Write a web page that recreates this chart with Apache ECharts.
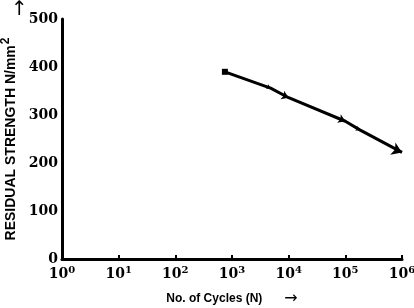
<!DOCTYPE html>
<html>
<head>
<meta charset="utf-8">
<script src="https://cdn.jsdelivr.net/npm/echarts@6/dist/echarts.min.js"></script>
<style>
  html, body { margin: 0; padding: 0; background: #fff; }
  #chart { width: 414px; height: 308px; }
</style>
</head>
<body>
<div id="chart"></div>
<script>
// values
var cycles   = [750, 4800, 10000, 100000, 180000, 1000000];
var strength = [390, 356, 336, 287, 269, 222];
var marks    = ['rect', 'arrow', 'arrow', 'arrow', 'arrow', 'arrow'];
var markSize = [6, 4, 7, 7, 4, 10];
var yTicks   = [0, 100, 200, 300, 400, 500];

var chart = echarts.init(document.getElementById('chart'));

var points = [];
for (var i = 0; i < cycles.length; i++) {
  points.push({
    value: [cycles[i], strength[i]],
    symbol: marks[i],
    symbolSize: markSize[i],
    symbolRotate: marks[i] == 'arrow' ? -113 : 0
  });
}

var tickFont = {fontFamily: 'DejaVu Serif', fontWeight: 'bold', fontSize: 14, color: '#000'};

chart.setOption({
  animation: false,
  backgroundColor: '#fff',
  grid: {left: 62, right: 12, top: 19, bottom: 49, outerBoundsMode: 'none', containLabel: false},
  xAxis: {
    type: 'log',
    logBase: 10,
    min: 1,
    max: 1000000,
    name: '{t|No. of Cycles (N)}{g|}{a|\u2192}',
    nameLocation: 'middle',
    nameGap: 32,
    nameTextStyle: {
      rich: {
        t: {fontFamily: 'Liberation Sans', fontWeight: 'bold', fontSize: 12, color: '#000'},
        g: {width: 22},
        a: {fontFamily: 'DejaVu Sans', fontSize: 16, color: '#000'}
      }
    },
    axisLine: {lineStyle: {color: '#000', width: 3}},
    axisTick: {inside: true, length: 4, lineStyle: {color: '#000', width: 2}},
    minorTick: {show: false},
    splitLine: {show: false},
    axisLabel: {
      margin: 6,
      formatter: function (v) {
        return '{b|10}{s|' + Math.round(Math.log10(v)) + '}';
      },
      rich: {
        b: tickFont,
        s: {fontFamily: 'DejaVu Serif', fontWeight: 'bold', fontSize: 10, color: '#000', padding: [0, 0, 9, 0]}
      }
    }
  },
  yAxis: {
    type: 'value',
    min: yTicks[0],
    max: yTicks[yTicks.length - 1],
    interval: 100,
    name: '{t|RESIDUAL STRENGTH N/mm}{s|2}',
    nameLocation: 'middle',
    nameGap: 26,
    nameTextStyle: {
      rich: {
        t: {fontFamily: 'Liberation Sans', fontWeight: 'bold', fontSize: 14, color: '#000'},
        s: {fontFamily: 'Liberation Sans', fontWeight: 'bold', fontSize: 12, color: '#000', padding: [0, 0, 10, 1]}
      }
    },
    axisLine: {show: true, lineStyle: {color: '#000', width: 3}},
    axisTick: {show: false},
    splitLine: {show: false},
    axisLabel: Object.assign({margin: 4}, tickFont)
  },
  graphic: [{
    type: 'text',
    left: 11,
    top: 0,
    style: {text: '\u2191', fontFamily: 'DejaVu Sans', fontSize: 20, fill: '#000'}
  }],
  series: [{
    type: 'line',
    data: points,
    lineStyle: {color: '#000', width: 3},
    itemStyle: {color: '#000'},
    showAllSymbol: true
  }]
});
</script>
</body>
</html>
